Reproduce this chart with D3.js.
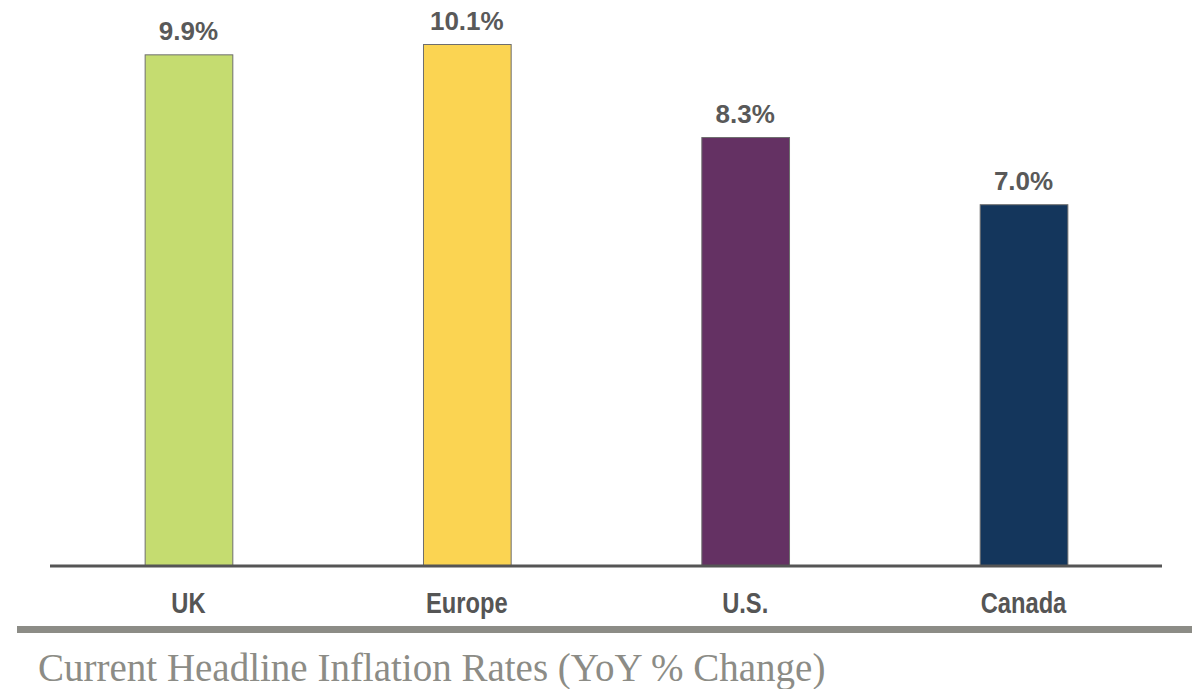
<!DOCTYPE html>
<html>
<head>
<meta charset="utf-8">
<script src="https://cdn.jsdelivr.net/npm/d3@7"></script>
<style>
  body { margin: 0; background: #fff; }
  svg { display: block; }
</style>
</head>
<body>
<svg id="chart" width="1198" height="689"></svg>
<script>
// données
const regions = ["UK", "Europe", "U.S.", "Canada"];
const inflation = [9.9, 10.1, 8.3, 7.0];
const barColors = ["#c5dc70", "#fbd452", "#643163", "#14365c"];
const title = "Current Headline Inflation Rates (YoY % Change)";

const svg = d3.select("#chart");

const x = d3.scaleBand()
  .domain(regions)
  .range([50, 1162])
  .paddingInner(0.685)
  .paddingOuter(0.34);

const y = d3.scaleLinear()
  .domain([0, 10.1])
  .range([566, 44]);

// barres
svg.selectAll(".bar")
  .data(regions)
  .enter()
  .append("rect")
  .attr("class", "bar")
  .attr("x", (d) => x(d) + 0.5)
  .attr("y", (d, i) => y(inflation[i]) + 0.5)
  .attr("width", x.bandwidth())
  .attr("height", (d, i) => y(0) - y(inflation[i]))
  .attr("fill", (d, i) => barColors[i])
  .attr("stroke", "#6e6e6e")
  .attr("stroke-width", 1);

// étiquettes de valeur
svg.selectAll(".val")
  .data(regions)
  .enter()
  .append("text")
  .attr("class", "val")
  .attr("x", (d) => x(d) + x.bandwidth() / 2)
  .attr("y", (d, i) => y(inflation[i]) - 14)
  .attr("text-anchor", "middle")
  .attr("font-family", "'Liberation Sans', Arial, sans-serif")
  .attr("font-weight", "bold")
  .attr("font-size", 26)
  .attr("fill", "#595959")
  .text((d, i) => inflation[i].toFixed(1) + "%");

// axe des x
const xAxis = svg.append("g")
  .attr("transform", "translate(0,566)")
  .call(d3.axisBottom(x).tickSize(0).tickPadding(26));

xAxis.select(".domain")
  .attr("stroke", "#555")
  .attr("stroke-width", 3)
  .attr("d", "M50,0H1162");

// police étroite absente : on compresse horizontalement
xAxis.selectAll("text")
  .attr("font-family", "'Liberation Sans Narrow', 'Liberation Sans', sans-serif")
  .attr("font-weight", "bold")
  .attr("font-size", 30)
  .attr("fill", "#555")
  .attr("dy", "0.71em")
  .attr("transform", "scale(0.79,1)");

// ligne grise et titre
svg.append("line")
  .attr("x1", 17)
  .attr("x2", 1192)
  .attr("y1", 629.5)
  .attr("y2", 629.5)
  .attr("stroke", "#8c8c86")
  .attr("stroke-width", 7);

svg.append("text")
  .attr("x", 38)
  .attr("y", 681)
  .attr("font-family", "'Liberation Serif', 'DejaVu Serif', serif")
  .attr("font-size", 39)
  .attr("fill", "#8c8c86")
  .text(title);
</script>
</body>
</html>
